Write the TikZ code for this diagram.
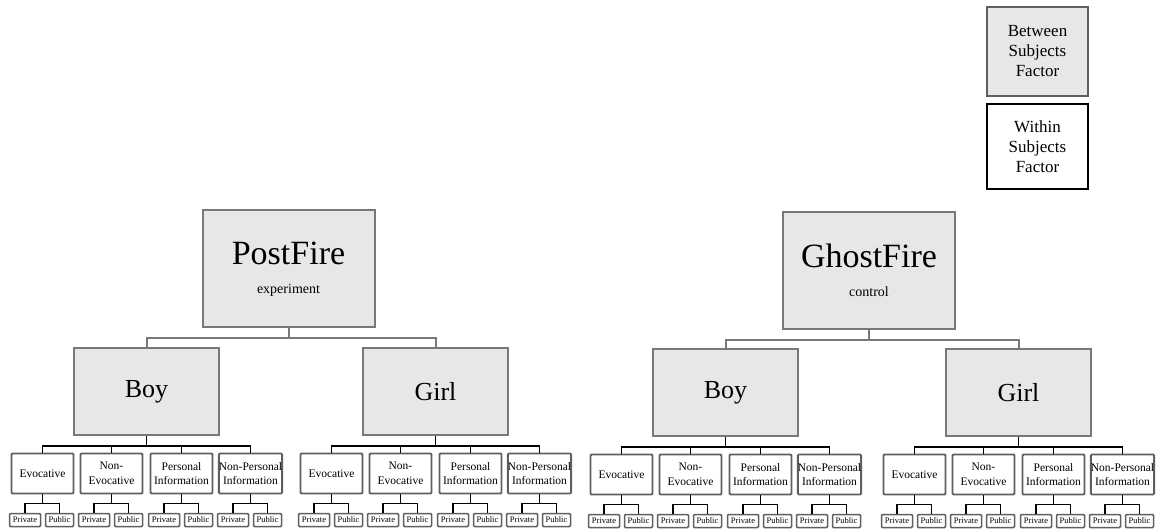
\documentclass[tikz,border=0pt]{standalone}
\usepackage{fontspec}
\setmainfont{Liberation Serif}
\usetikzlibrary{calc}
\definecolor{boxGray}{RGB}{231,231,234}
\definecolor{lineGray}{RGB}{120,120,120}
\definecolor{darkGray}{RGB}{95,95,95}

\tikzset{
  between/.style={draw=lineGray, line width=2pt, fill=boxGray, inner sep=0pt, align=center},
  within/.style={draw=darkGray, line width=1.8pt, fill=white, rounded corners=1pt, inner sep=0pt, align=center},
  condition/.style={between, minimum width=172pt, minimum height=117pt},
  gender/.style={between, minimum width=145pt, minimum height=87pt, font=\fontsize{26}{30}\selectfont},
  stimulus/.style={within, minimum width=62pt, minimum height=40pt, font=\fontsize{11.5}{14.5}\selectfont},
  setting/.style={within, line width=1.5pt, minimum height=13pt, font=\fontsize{8.5}{10}\selectfont},
  trunk/.style={draw=lineGray, line width=2pt},
  tie/.style={draw=black, line width=1.5pt}
}

\begin{document}
\begin{tikzpicture}[x=1pt, y=-1pt]
  \useasboundingbox (0,0) rectangle (1157,529);

  % Legend
  \node[between, line width=1.5pt, draw=darkGray, minimum width=101pt, minimum height=89pt,
        font=\fontsize{17}{20}\selectfont] (legend-between) at (1037.5,51.5) {Between\\Subjects\\Factor};
  \node[within, line width=1.5pt, draw=black, rounded corners=0pt, minimum width=101pt, minimum height=85pt,
        font=\fontsize{17}{20}\selectfont] (legend-within) at (1037.5,146.5) {Within\\Subjects\\Factor};

  % Conditions
  \node[condition, font=\fontsize{14}{29}\selectfont] (postfire) at (288.5,269)
    {{\fontsize{34}{29}\selectfont PostFire}\\experiment};
  \node[condition, font=\fontsize{14}{29}\selectfont] (ghostfire) at (869,270.5)
    {{\fontsize{34}{29}\selectfont GhostFire}\\control};

  % Gender of the child
  \node[gender] (postfire-boy) at (146.5,391.5) {Boy};
  \node[gender] (postfire-girl) at (435.5,391.5) {Girl};
  \node[gender] (ghostfire-boy) at (725.5,392.5) {Boy};
  \node[gender] (ghostfire-girl) at (1018.5,392.5) {Girl};

  \foreach \c in {postfire, ghostfire}
    \foreach \s in {boy, girl}
      \draw[trunk] (\c.south) -- ++(0,10) -| (\c-\s.north);

  % Stimulus type, then private / public setting
  \foreach \g in {postfire-boy, postfire-girl, ghostfire-boy, ghostfire-girl} {
    \foreach \dx/\k/\txt in {-104/evoc/Evocative, -35/nonevoc/{Non-\\Evocative},
                             35/pers/{Personal\\Information}, 104/nonpers/{Non-Personal\\Information}} {
      \node[stimulus] (\g-\k) at ($(\g.center)+(\dx,82)$) {\txt};
      \draw[tie] (\g.south) -- ++(0,10) -| (\g-\k.north);
      \node[setting, minimum width=31pt] (\g-\k-private) at ($(\g-\k.center)+(-17.5,46.5)$) {Private};
      \node[setting, minimum width=28pt] (\g-\k-public) at ($(\g-\k.center)+(17,46.5)$) {Public};
      \draw[tie] (\g-\k.south) -- ++(0,9) -| (\g-\k-private.north);
      \draw[tie] (\g-\k.south) -- ++(0,9) -| (\g-\k-public.north);
    }
  }
\end{tikzpicture}
\end{document}
